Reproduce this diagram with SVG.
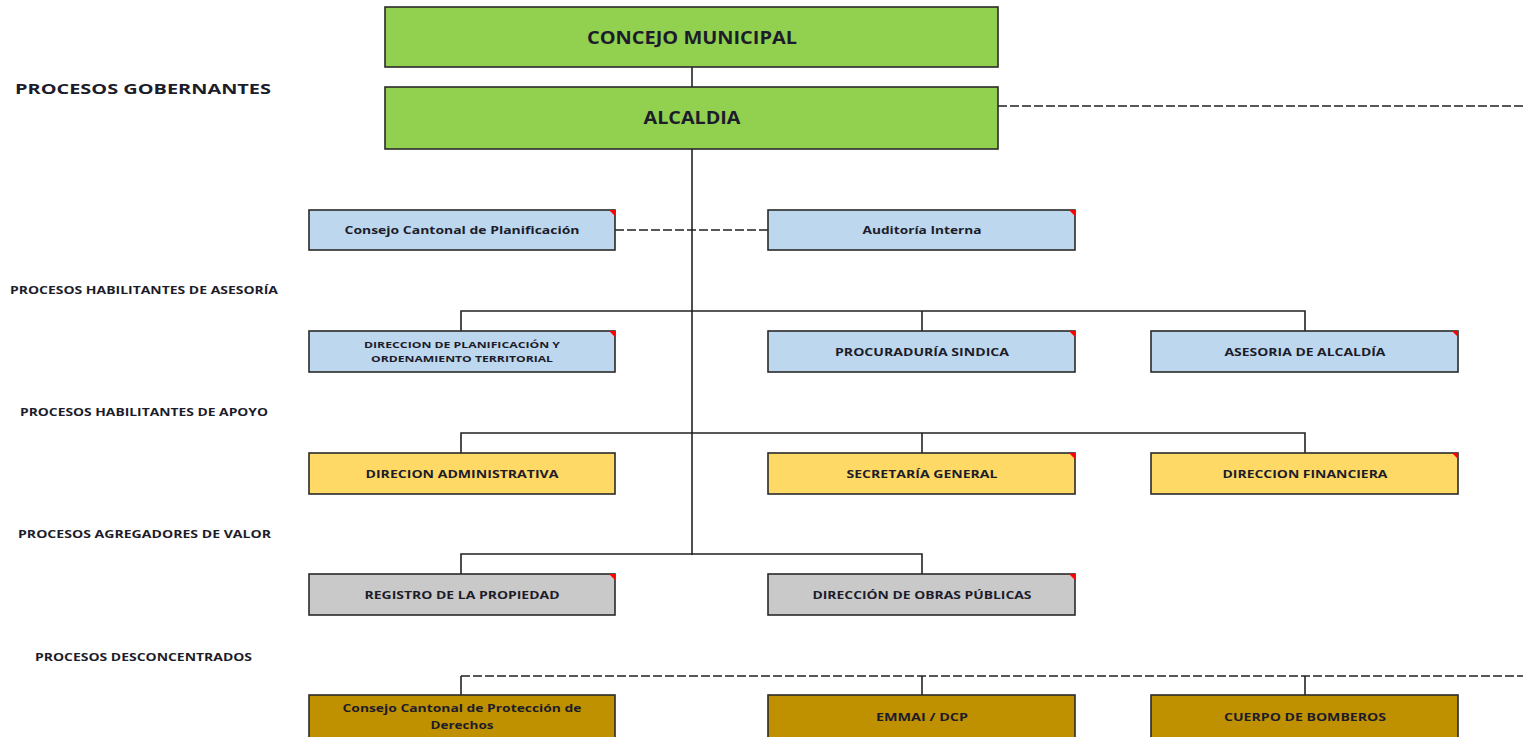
<svg xmlns="http://www.w3.org/2000/svg" width="1523" height="737" viewBox="0 0 1523 737">
<style>
  .box { stroke: #2a2a2a; stroke-width: 1.6; }
  .green { fill: #92D050; }
  .blue { fill: #BDD7EE; }
  .yellow { fill: #FFD966; }
  .gray { fill: #C9C9C9; }
  .gold { fill: #BF9000; }
  .flag { fill: #FF0000; }
  text { font-family: "Open Sans", "Liberation Sans", sans-serif; font-weight: bold; fill: #1c1c2a; }
  .t { font-size: 10px; text-anchor: middle; }
  .big { font-size: 18px; text-anchor: middle; }
  .lbl { font-size: 10px; }
  .line { stroke: #222; stroke-width: 1.6; fill: none; }
  .dash { stroke: #222; stroke-width: 1.6; fill: none; stroke-dasharray: 9 3; }
</style>
<rect width="1523" height="737" fill="#ffffff"/>

<g id="connectors">
  <line class="line" x1="692" y1="67" x2="692" y2="87"/>
  <line class="line" x1="692" y1="149" x2="692" y2="555"/>
  <line class="dash" x1="998" y1="106" x2="1523" y2="106"/>
  <line class="dash" x1="615" y1="230" x2="768" y2="230"/>
  <polyline class="line" points="461,331 461,311 1305,311 1305,331"/>
  <line class="line" x1="922" y1="311" x2="922" y2="331"/>
  <polyline class="line" points="461,453 461,433 1305,433 1305,453"/>
  <line class="line" x1="922" y1="433" x2="922" y2="453"/>
  <polyline class="line" points="461,574 461,554 922,554 922,574"/>
  <line class="dash" x1="461" y1="676" x2="1523" y2="676"/>
  <line class="line" x1="461" y1="676" x2="461" y2="695"/>
  <line class="line" x1="922" y1="676" x2="922" y2="695"/>
  <line class="line" x1="1305" y1="676" x2="1305" y2="695"/>
</g>

<g id="labels">
  <text class="lbl" x="15" y="94" style="font-size:15px" textLength="256" lengthAdjust="spacingAndGlyphs">PROCESOS GOBERNANTES</text>
  <text class="lbl" x="10" y="294" textLength="268" lengthAdjust="spacingAndGlyphs">PROCESOS HABILITANTES DE ASESORÍA</text>
  <text class="lbl" x="20" y="416" textLength="248" lengthAdjust="spacingAndGlyphs">PROCESOS HABILITANTES DE APOYO</text>
  <text class="lbl" x="18" y="538" textLength="253" lengthAdjust="spacingAndGlyphs">PROCESOS AGREGADORES DE VALOR</text>
  <text class="lbl" x="35" y="661" textLength="217" lengthAdjust="spacingAndGlyphs">PROCESOS DESCONCENTRADOS</text>
</g>

<g id="concejo-municipal">
  <rect class="box green" x="385" y="7" width="613" height="60"/>
  <text class="big" x="692" y="44" textLength="210" lengthAdjust="spacingAndGlyphs">CONCEJO MUNICIPAL</text>
</g>
<g id="alcaldia">
  <rect class="box green" x="385" y="87" width="613" height="62"/>
  <text class="big" x="692" y="124" textLength="97" lengthAdjust="spacingAndGlyphs">ALCALDIA</text>
</g>

<g id="consejo-planificacion">
  <rect class="box blue" x="309" y="210" width="306" height="40"/>
  <polygon class="flag" points="609,210 615,210 615,216"/>
  <text class="t" x="462" y="234" style="font-size:11px" textLength="235" lengthAdjust="spacingAndGlyphs">Consejo Cantonal de Planificación</text>
</g>
<g id="auditoria-interna">
  <rect class="box blue" x="768" y="210" width="307" height="40"/>
  <polygon class="flag" points="1069,210 1075,210 1075,216"/>
  <text class="t" x="922" y="234" style="font-size:11px" textLength="119" lengthAdjust="spacingAndGlyphs">Auditoría Interna</text>
</g>

<g id="direccion-planificacion">
  <rect class="box blue" x="309" y="331" width="306" height="41"/>
  <polygon class="flag" points="609,331 615,331 615,337"/>
  <text class="t" x="462" y="348" style="font-size:9px" textLength="196" lengthAdjust="spacingAndGlyphs">DIRECCION DE PLANIFICACIÓN Y</text>
  <text class="t" x="462" y="362" style="font-size:9px" textLength="182" lengthAdjust="spacingAndGlyphs">ORDENAMIENTO TERRITORIAL</text>
</g>
<g id="procuraduria-sindica">
  <rect class="box blue" x="768" y="331" width="307" height="41"/>
  <polygon class="flag" points="1069,331 1075,331 1075,337"/>
  <text class="t" x="922" y="356" textLength="174" lengthAdjust="spacingAndGlyphs">PROCURADURÍA SINDICA</text>
</g>
<g id="asesoria-alcaldia">
  <rect class="box blue" x="1151" y="331" width="307" height="41"/>
  <polygon class="flag" points="1452,331 1458,331 1458,337"/>
  <text class="t" x="1305" y="356" textLength="161" lengthAdjust="spacingAndGlyphs">ASESORIA DE ALCALDÍA</text>
</g>

<g id="direcion-administrativa">
  <rect class="box yellow" x="309" y="453" width="306" height="41"/>
  <text class="t" x="462" y="478" textLength="193" lengthAdjust="spacingAndGlyphs">DIRECION ADMINISTRATIVA</text>
</g>
<g id="secretaria-general">
  <rect class="box yellow" x="768" y="453" width="307" height="41"/>
  <polygon class="flag" points="1069,453 1075,453 1075,459"/>
  <text class="t" x="922" y="478" textLength="151" lengthAdjust="spacingAndGlyphs">SECRETARÍA GENERAL</text>
</g>
<g id="direccion-financiera">
  <rect class="box yellow" x="1151" y="453" width="307" height="41"/>
  <polygon class="flag" points="1452,453 1458,453 1458,459"/>
  <text class="t" x="1305" y="478" textLength="165" lengthAdjust="spacingAndGlyphs">DIRECCION FINANCIERA</text>
</g>

<g id="registro-propiedad">
  <rect class="box gray" x="309" y="574" width="306" height="41"/>
  <polygon class="flag" points="609,574 615,574 615,580"/>
  <text class="t" x="462" y="599" textLength="195" lengthAdjust="spacingAndGlyphs">REGISTRO DE LA PROPIEDAD</text>
</g>
<g id="direccion-obras-publicas">
  <rect class="box gray" x="768" y="574" width="307" height="41"/>
  <polygon class="flag" points="1069,574 1075,574 1075,580"/>
  <text class="t" x="922" y="599" textLength="219" lengthAdjust="spacingAndGlyphs">DIRECCIÓN DE OBRAS PÚBLICAS</text>
</g>

<g id="consejo-proteccion-derechos">
  <rect class="box gold" x="309" y="695" width="306" height="44"/>
  <text class="t" x="462" y="712" style="font-size:11px" textLength="239" lengthAdjust="spacingAndGlyphs">Consejo Cantonal de Protección de</text>
  <text class="t" x="462" y="729" style="font-size:11px" textLength="63" lengthAdjust="spacingAndGlyphs">Derechos</text>
</g>
<g id="emmai-dcp">
  <rect class="box gold" x="768" y="695" width="307" height="44"/>
  <text class="t" x="922" y="721" textLength="92" lengthAdjust="spacingAndGlyphs">EMMAI / DCP</text>
</g>
<g id="cuerpo-bomberos">
  <rect class="box gold" x="1151" y="695" width="307" height="44"/>
  <text class="t" x="1305" y="721" textLength="162" lengthAdjust="spacingAndGlyphs">CUERPO DE BOMBEROS</text>
</g>
</svg>
